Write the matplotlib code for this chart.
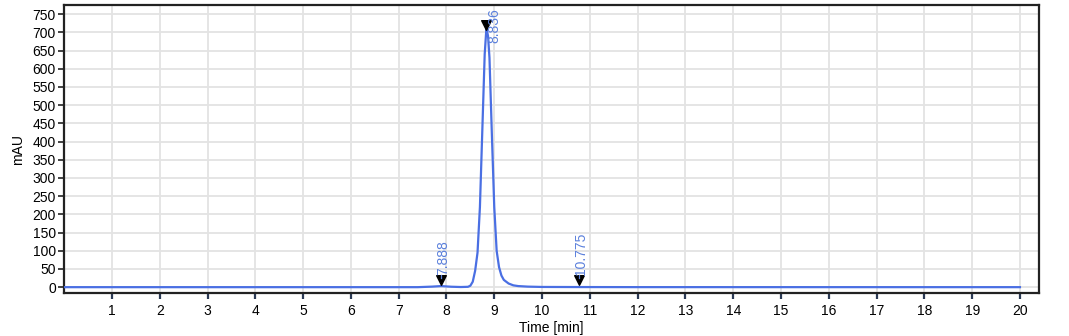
import numpy as np
import matplotlib
matplotlib.use("Agg")
import matplotlib.pyplot as plt

plt.rcParams['font.family'] = ['Liberation Sans', 'DejaVu Sans']

# trace (time in min, absorbance in mAU)
time_min = [0.0, 7.4, 7.7, 7.888, 8.1, 8.3, 8.45, 8.5, 8.55, 8.6, 8.65, 8.7, 8.75,
            8.8, 8.836, 8.87, 8.9, 8.95, 9.0, 9.05, 9.1, 9.15, 9.2, 9.3, 9.4,
            9.5, 9.7, 10.0, 10.775, 12.0, 20.0]
signal_mau = [0.0, 0.0, 1.5, 3.0, 1.2, 0.4, 1.0, 4.0, 15.0, 45.0, 95.0, 220.0, 430.0,
              640.0, 712.0, 690.0, 630.0, 420.0, 220.0, 100.0, 55.0, 32.0, 20.0, 10.0, 5.0,
              3.0, 1.5, 0.6, 0.3, 0.1, 0.0]

peak_times = [7.888, 8.836, 10.775]
peak_labels = ["7.888", "8.836", "10.775"]
marker_heights = [19, 720, 19]

line_color = "#4a6fe3"
label_color = "#5b80dc"

fig = plt.figure(figsize=(10.69, 3.36), dpi=100)
ax = fig.add_axes([0.06, 0.128, 0.912, 0.857])

ax.plot(time_min, signal_mau, color=line_color, lw=1.6, zorder=3)

ax.scatter(peak_times, marker_heights, marker="v", s=48, color="black", zorder=4)
for t, lab, h in zip(peak_times, peak_labels, marker_heights):
    if t == 8.836:
        ax.text(t + 0.17, 672, lab, rotation=90, color=label_color, fontsize=10,
                ha="center", va="bottom", zorder=5, clip_on=False)
    else:
        ax.plot([t, t], [h + 6, h + 14], color=label_color, lw=0.9, zorder=5)
        ax.text(t + 0.04, h + 14, lab, rotation=90, color=label_color, fontsize=10,
                ha="center", va="bottom", zorder=5)

ax.set_xlim(0, 20.4)
ax.set_ylim(-16, 775)
ax.set_xticks(np.arange(1, 21))
ax.set_yticks(np.arange(0, 751, 50))
ax.grid(True, color="#e3e3e3", lw=1.3, zorder=0)
ax.set_axisbelow(True)

for sp in ax.spines.values():
    sp.set_linewidth(1.6)
    sp.set_color("#222222")

ax.tick_params(axis="x", direction="out", length=4, width=1.6, color="#2b3a55",
               labelsize=10, pad=4)
ax.tick_params(axis="y", direction="out", length=4, width=1.2, color="#222222",
               labelsize=10, pad=2)

ax.set_xlabel("Time [min]", fontsize=10, labelpad=2)
ax.set_ylabel("mAU", fontsize=10, labelpad=5)

fig.savefig("out.png", dpi=100)
plt.close(fig)
